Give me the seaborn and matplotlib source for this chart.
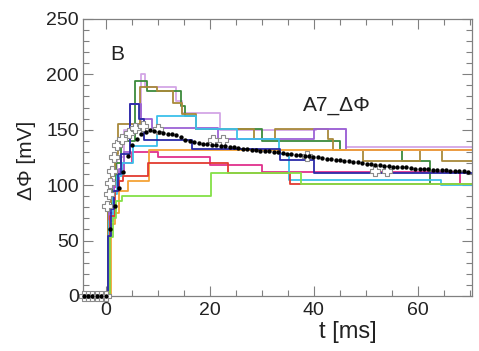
import numpy as np
import pandas as pd
import matplotlib
matplotlib.use("Agg")
import matplotlib.pyplot as plt
from matplotlib.ticker import MultipleLocator
import seaborn as sns

# ---- single-trial step traces: (time of change [ms], potential after change [mV]) ----
green_t = [0.0, 0.8, 1.3, 1.9, 3.2, 20.3, 37.5, 70.5]
green_v = [0, 53, 70, 86, 90, 111, 101, 101]

red_t = [0.0, 0.9, 1.7, 2.5, 3.3, 8.2, 23.5, 35.4, 37.5, 70.5]
red_v = [0, 72, 95, 104, 108, 120, 111, 101, 101, 101]

magenta_t = [0.0, 0.7, 1.5, 2.5, 3.6, 5.0, 10.0, 20.0, 30.0, 68.2, 70.5]
magenta_v = [0, 75, 98, 112, 120, 130, 125, 118, 112, 101, 101]

orange_t = [0.0, 1.0, 1.7, 2.6, 4.2, 8.4, 70.5]
orange_v = [0, 65, 75, 95, 104, 132, 132]

navy_t = [0.0, 0.5, 1.0, 1.6, 2.3, 3.0, 4.6, 6.4, 7.3, 16.5, 33.5, 40.0, 70.5]
navy_v = [0, 54, 78, 95, 110, 128, 173, 160, 141, 133, 123, 111, 111]

cyan_t = [0.0, 0.6, 1.4, 2.2, 3.2, 5.2, 9.8, 17.4, 25.3, 33.3, 35.2, 64.4, 70.5]
cyan_v = [0, 68, 92, 108, 120, 135, 162, 151, 142, 128, 105, 100, 100]

purple_t = [0.0, 0.7, 1.5, 2.5, 3.5, 4.7, 6.8, 8.8, 21.6, 40.0, 46.2, 70.5]
purple_v = [0, 80, 100, 115, 130, 173, 160, 152, 142, 151, 132, 132]

lavender_t = [0.0, 0.6, 1.3, 2.2, 3.5, 6.7, 7.6, 13.6, 14.7, 22.0, 40.4, 46.2, 70.5]
lavender_v = [0, 85, 105, 125, 150, 200, 189, 176, 165, 150, 151, 134, 134]

olive_t = [0.0, 0.4, 1.1, 1.8, 2.4, 6.5, 9.8, 12.9, 14.6, 17.4, 28.6, 32.5, 42.7,
           43.7, 49.4, 60.4, 64.6, 70.5]
olive_v = [0, 85, 110, 128, 155, 189, 185, 174, 164, 151, 142, 151, 142,
           132, 122, 132, 122, 122]

dkgreen_t = [0.0, 0.5, 1.2, 2.0, 3.0, 5.6, 7.9, 14.5, 15.2, 17.3, 30.0, 45.0, 57.0,
             62.4, 70.5]
dkgreen_v = [0, 80, 100, 120, 140, 194, 185, 171, 162, 151, 140, 132, 122,
             101, 101]

# ---- trial average, sampled every 0.85 ms from -4.25 ms ----
avg_mv = [0, 0, 0, 0, 0, 0,
          60, 81, 97, 112, 126, 136, 142, 146, 148, 150,
          149, 148, 147, 146, 146, 145, 143, 141, 139.5, 138.5,
          138, 137.5, 137, 136.5, 136, 135.5, 135, 134.5, 134, 133.5,
          133, 132.5, 132, 131.5, 131, 131, 130.5, 130, 129.5, 129,
          128.5, 128, 127.5, 127, 126.5, 126, 125.5, 125, 124.5, 124,
          123.5, 123, 122.5, 122, 121.5, 121, 120.5, 120, 119.5, 119,
          118.5, 118, 117.5, 117, 116.5, 116.5, 116, 116, 115.5, 115,
          115, 114.5, 114.5, 114, 114, 113.5, 113.5, 113, 113, 112.5,
          112.5, 112]
avg_t = -4.25 + 0.85 * np.arange(len(avg_mv))

# ---- second summary trace (open crosses) ----
cross_t = [-4.25, -3.4, -2.55, -1.7, -0.85, 0.0, 0.2, 0.6, 0.9, 1.2, 1.6, 2.2, 3.2,
           4.5, 5.6, 7.1, 10.0, 20.6, 22.5, 38.7, 51.7, 54.0]
cross_v = [0, 0, 0, 0, 0, 0, 81, 92, 102, 113, 125, 136, 142,
           147, 152, 153, 151, 141, 141, 126, 113, 113]

traces = [
    ("magenta", magenta_t, magenta_v, "#e0308c"),
    ("lavender", lavender_t, lavender_v, "#d3a6e6"),
    ("dkgreen", dkgreen_t, dkgreen_v, "#3b8a3b"),
    ("olive", olive_t, olive_v, "#a8893a"),
    ("purple", purple_t, purple_v, "#9c62d6"),
    ("cyan", cyan_t, cyan_v, "#3cc0ea"),
    ("orange", orange_t, orange_v, "#f4a236"),
    ("red", red_t, red_v, "#e23a30"),
    ("green", green_t, green_v, "#84e046"),
    ("navy", navy_t, navy_v, "#2b2ba8"),
]

rows = []
for name, ts, vs, _ in traces:
    for t, v in zip(ts, vs):
        rows.append({"trial": name, "t": t, "dphi": v})
df = pd.DataFrame(rows)
palette = {name: col for name, _, _, col in traces}

sns.set_style("white")
plt.rcParams["font.family"] = ["Liberation Sans", "DejaVu Sans"]

fig = plt.figure(figsize=(4.79, 3.51), dpi=100)
ax = fig.add_axes([0.173, 0.157, 0.812, 0.789])

sns.lineplot(data=df, x="t", y="dphi", hue="trial", hue_order=[n for n, *_ in traces],
             palette=palette, estimator=None, sort=False, drawstyle="steps-post",
             linewidth=1.3, legend=False, ax=ax, zorder=2)

sns.scatterplot(x=cross_t, y=cross_v, marker="P", s=45, color="white",
                edgecolor="#8c8c8c", linewidth=0.8, ax=ax, zorder=4, clip_on=False)
sns.scatterplot(x=avg_t, y=avg_mv, marker="o", s=10, color="black",
                linewidth=0, ax=ax, zorder=5, clip_on=False)

ax.set_xlim(-4.4, 70.4)
ax.set_ylim(0, 250)
ax.xaxis.set_major_locator(MultipleLocator(20))
ax.xaxis.set_minor_locator(MultipleLocator(5))
ax.yaxis.set_major_locator(MultipleLocator(50))
ax.yaxis.set_minor_locator(MultipleLocator(10))

for s in ax.spines.values():
    s.set_color("#808080")
    s.set_linewidth(0.9)

ax.tick_params(which="both", direction="in", bottom=True, left=True, top=True,
               right=True, color="#808080", width=0.8)
ax.tick_params(which="major", length=7)
ax.tick_params(which="minor", length=4)
ax.tick_params(axis="x", which="major", labelsize=14, pad=4.5, labelcolor="#222222")
ax.tick_params(axis="y", which="major", labelsize=14, pad=3, labelcolor="#222222")

ax.set_xlabel("t [ms]", fontsize=17, color="#222222")
ax.xaxis.set_label_coords(0.68, -0.09)
ax.set_ylabel("ΔΦ [mV]", fontsize=15, color="#222222")
ax.yaxis.set_label_coords(-0.12, 0.49)

ax.text(0.07, 0.905, "B", transform=ax.transAxes, fontsize=15, va="top", ha="left",
        color="#222222")
ax.text(0.566, 0.72, "A7_ΔΦ", transform=ax.transAxes, fontsize=15, va="top",
        ha="left", color="#222222")

fig.savefig("out.png", dpi=100)
